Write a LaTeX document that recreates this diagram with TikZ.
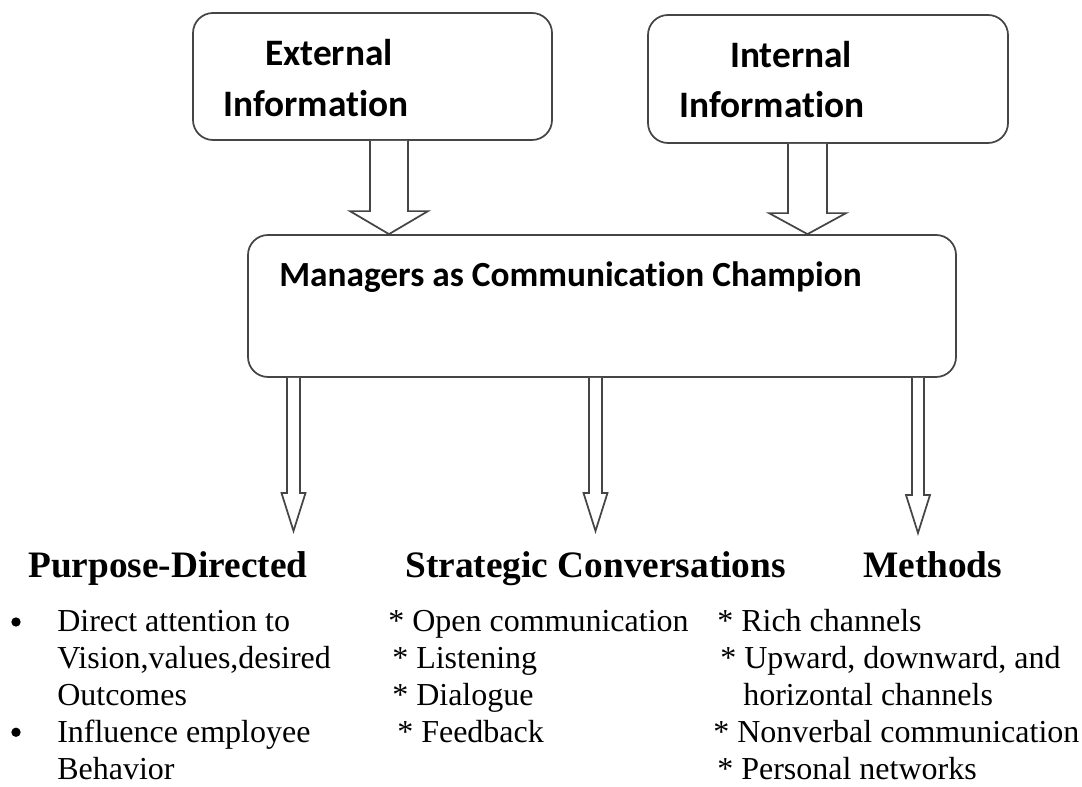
\documentclass[tikz,border=0pt]{standalone}
\usepackage{fontspec}
\setmainfont{Liberation Serif}
\newfontfamily\calib[Ligatures=NoCommon]{Carlito}
\usetikzlibrary{calc}
\definecolor{boxc}{HTML}{454545}
\newcommand\blockarr[5]{%
  \draw[arr] ($(#1)+(-#3,0)$) -- ($(#2)+(-#3,-#5)$) -- ($(#2)+(-#4,-#5)$) -- (#2)
    -- ($(#2)+(#4,-#5)$) -- ($(#2)+(#3,-#5)$) -- ($(#1)+(#3,0)$);}
\begin{document}
\begin{tikzpicture}[x=0.75pt,y=-0.75pt,
  box/.style={draw=boxc, line width=1.3pt, rounded corners=15pt, inner sep=0pt},
  arr/.style={draw=boxc, line width=1.3pt, line join=miter, fill=white},
  cal/.style={font=\calib\bfseries\fontsize{28pt}{34pt}\selectfont, inner sep=0pt, anchor=base west},
  hd/.style={font=\bfseries\fontsize{28pt}{32pt}\selectfont, inner sep=0pt, anchor=base west},
  txt/.style={font=\fontsize{24pt}{27.5pt}\selectfont, inner sep=0pt, anchor=base west},
  bul/.style={circle, fill=black, inner sep=0pt, minimum size=7pt}]
\useasboundingbox[fill=white] (0,0) rectangle (1082,787);

% boxes
\node[box, minimum width=269.25pt, minimum height=95.25pt] (ext) at (372.5,76.5) {};
\node[box, minimum width=270pt, minimum height=96pt] (int) at (828,79) {};
\node[box, minimum width=531pt, minimum height=106.5pt] (mgr) at (602,306) {};

\node[cal] (extA) at (265,66) {External};
\node[cal] (extB) at (223,117) {Information};
\node[cal] (intA) at (730,68) {Internal};
\node[cal] (intB) at (679,118) {Information};
\node[cal, font=\calib\bfseries\fontsize{26.5pt}{32pt}\selectfont] (mgrT) at (279,287) {Managers as Communication Champion};

% arrows into the main box
\coordinate (a1t) at (389,0 |- ext.south);
\coordinate (a1b) at (389,0 |- mgr.north);
\blockarr{a1t}{a1b}{19}{39}{23}
\coordinate (a2t) at (807.5,0 |- int.south);
\coordinate (a2b) at (807.5,0 |- mgr.north);
\blockarr{a2t}{a2b}{19.5}{38.5}{21}

% arrows out of the main box
\coordinate (d1t) at (293.5,0 |- mgr.south);
\coordinate (d1b) at (293.5,531);
\blockarr{d1t}{d1b}{6.5}{12}{38}
\coordinate (d2t) at (595.5,0 |- mgr.south);
\coordinate (d2b) at (595.5,531);
\blockarr{d2t}{d2b}{6.5}{12}{38}
\coordinate (d3t) at (918,0 |- mgr.south);
\coordinate (d3b) at (918,533);
\blockarr{d3t}{d3b}{6}{12}{38}

% headings
\node[hd] (h1) at (28,578) {Purpose-Directed};
\node[hd] (h2) at (405,578) {Strategic Conversations};
\node[hd] (h3) at (863,578) {Methods};

% left column
\node[bul] (bu1) at (16,622) {};
\node[bul] (bu2) at (16,732.25) {};
\node[txt] (l1) at (57,632) {Direct attention to};
\node[txt] (l2) at (57,668.75) {Vision,values,desired};
\node[txt] (l3) at (57,705.5) {Outcomes};
\node[txt] (l4) at (57,742.25) {Influence employee};
\node[txt] (l5) at (57,779) {Behavior};

% middle column
\node[txt] (m1) at (388,632) {* Open communication};
\node[txt] (m2) at (392,668.75) {* Listening};
\node[txt] (m3) at (392,705.5) {* Dialogue};
\node[txt] (m4) at (397,742.25) {* Feedback};

% right column
\node[txt] (r1) at (717,632) {* Rich channels};
\node[txt] (r2) at (720,668.75) {* Upward, downward, and};
\node[txt] (r3) at (743,705.5) {horizontal channels};
\node[txt] (r4) at (713,742.25) {* Nonverbal communication};
\node[txt] (r5) at (717,779) {* Personal networks};
\end{tikzpicture}
\end{document}
